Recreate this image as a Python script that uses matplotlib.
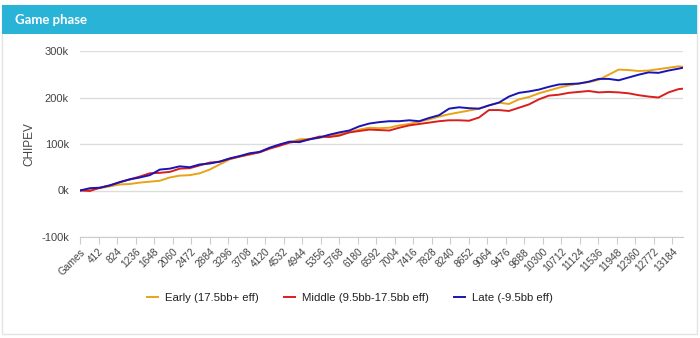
import numpy as np
import matplotlib
matplotlib.use("Agg")
import matplotlib.pyplot as plt
from matplotlib.patches import Rectangle

plt.rcParams['font.family'] = ['Liberation Sans', 'DejaVu Sans']

# cumulative chip EV (in thousands), one sample every 222 games
early = [0, 3, 5, 9, 13, 14, 17, 19, 21, 28, 32, 33, 37, 45, 56, 67, 73, 77, 83, 90,
         98, 104, 110, 111, 113, 118, 121, 125, 131, 135, 134, 135, 140, 143, 148, 153,
         159, 164, 168, 172, 176, 183, 189, 186, 196, 201, 209, 215, 221, 226, 230, 233,
         238, 249, 260, 259, 257, 258, 261, 264, 267, 266]
middle = [0, -1, 6, 11, 18, 24, 30, 37, 38, 40, 47, 48, 54, 60, 62, 68, 73, 78, 82, 90,
          96, 103, 106, 110, 116, 115, 118, 125, 128, 131, 130, 129, 135, 140, 143, 146,
          149, 151, 151, 150, 157, 173, 173, 171, 178, 185, 196, 204, 206, 210, 212, 214,
          211, 212, 211, 209, 205, 202, 200, 211, 218, 219]
late = [0, 5, 6, 11, 18, 24, 28, 33, 45, 47, 52, 50, 56, 58, 62, 69, 74, 80, 83, 92,
        99, 105, 104, 110, 114, 120, 125, 129, 138, 144, 147, 149, 149, 151, 149, 156,
        162, 176, 179, 177, 176, 183, 189, 202, 210, 213, 217, 223, 228, 229, 230, 234,
        240, 240, 237, 243, 249, 254, 253, 258, 262, 264]

games = np.arange(len(early)) * 222
games[-1] = 13420

tick_pos = np.arange(0, 13185, 412)
tick_labels = ['Games'] + [str(t) for t in tick_pos[1:]]
y_ticks = [-100, 0, 100, 200, 300]

series = [
    ('Early (17.5bb+ eff)', early, '#e8a317'),
    ('Middle (9.5bb-17.5bb eff)', middle, '#d91e1e'),
    ('Late (-9.5bb eff)', late, '#1a14b4'),
]

fig = plt.figure(figsize=(7, 3.38), dpi=100)
fig.patch.set_facecolor('white')

# panel frame and header bar
fig.patches.append(Rectangle((2 / 700, 4 / 338), 695 / 700, 329 / 338,
                             transform=fig.transFigure, facecolor='white',
                             edgecolor='#e3e3e3', linewidth=1, zorder=-5))
fig.patches.append(Rectangle((2 / 700, 1 - 34 / 338), 695 / 700, 29 / 338,
                             transform=fig.transFigure, facecolor='#29b3d7',
                             edgecolor='#29b3d7', linewidth=0, zorder=-4))
fig.text(15 / 700, 1 - 19.5 / 338, 'Game phase', color='white', fontsize=9.5,
         fontweight='bold', family=['Lato', 'DejaVu Sans'], va='center', ha='left')

ax = fig.add_axes([80 / 700, (338 - 237) / 338, 603 / 700, 186 / 338])
ax.set_zorder(2)
ax.patch.set_alpha(0)
for name, vals, col in series:
    ax.plot(games, vals, color=col, linewidth=1.4, label=name)

ax.set_xlim(0, 13420)
ax.set_ylim(-100, 300)
ax.set_yticks(y_ticks)
ax.set_yticklabels([f'{v}k' for v in y_ticks], color='#444444', fontsize=8)
ax.set_xticks(tick_pos)
ax.set_xticklabels(tick_labels, rotation=45, ha='right', rotation_mode='anchor',
                   color='#444444', fontsize=7.3)
ax.tick_params(axis='y', length=0, pad=8)
ax.tick_params(axis='x', length=5, color='#cccccc', pad=2)
ax.grid(axis='y', color='#dddddd', linewidth=1)
ax.set_axisbelow(True)
for s in ['top', 'right', 'left']:
    ax.spines[s].set_visible(False)
ax.spines['bottom'].set_color('#cccccc')
ax.set_ylabel('CHIPEV', color='#444444', fontsize=8.5, labelpad=4)

fig.legend(loc='center', bbox_to_anchor=(0.5, 1 - 298 / 338), ncol=3, frameon=False,
           fontsize=8.2, handlelength=1.0, handletextpad=0.6, columnspacing=2.2,
           labelcolor='#222222')

fig.savefig('out.png', dpi=100)
